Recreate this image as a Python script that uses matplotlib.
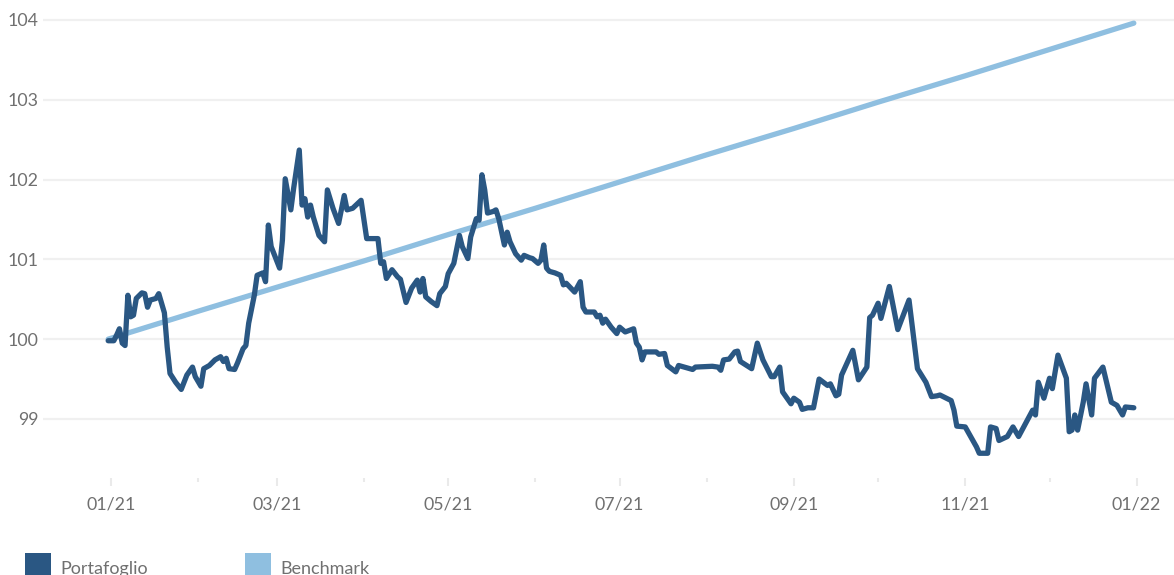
#!/usr/bin/env python3

import pandas as pd
import matplotlib
matplotlib.use('Agg')
import matplotlib.pyplot as plt
import matplotlib.dates as mdates
from matplotlib.patches import Rectangle

# days counted from 2021-01-01
port_day = [-1, 1, 2, 3, 4, 5, 6, 7, 8, 9, 11, 12, 13, 14, 16, 17, 19, 20, 21, 23,
            25, 26, 27, 29, 30, 32, 33, 35, 37, 39, 40, 41, 42, 44, 45, 47, 48, 49, 51, 52,
            54, 55, 56, 57, 60, 61, 62, 64, 65, 67, 68, 69, 70, 71, 72, 74, 76, 77, 79, 81,
            83, 84, 86, 89, 91, 95, 96, 97, 98, 100, 102, 103, 105, 107, 109, 110, 111, 112, 114, 116,
            117, 119, 120, 122, 124, 125, 127, 128, 130, 131, 132, 133, 134, 136, 137, 138, 140, 141, 142, 144,
            146, 147, 149, 150, 152, 153, 154, 155, 156, 158, 160, 161, 162, 165, 167, 168, 169, 172, 173, 174,
            175, 176, 178, 180, 181, 183, 186, 187, 188, 189, 190, 194, 195, 197, 198, 201, 202, 207, 208, 214,
            216, 217, 218, 220, 222, 223, 224, 228, 230, 232, 235, 236, 238, 239, 242, 243, 245, 246, 248, 250,
            252, 255, 256, 258, 259, 260, 264, 266, 269, 270, 271, 273, 274, 277, 280, 284, 287, 290, 292, 294,
            295, 299, 300, 301, 304, 308, 309, 312, 313, 315, 316, 319, 321, 323, 328, 329, 330, 332, 334, 335,
            337, 340, 341, 342, 343, 344, 346, 347, 349, 350, 353, 356, 358, 360, 361, 364]
port_val = [99.98, 99.98, 100.05, 100.13, 99.95, 99.92, 100.55, 100.28, 100.30, 100.51,
            100.58, 100.57, 100.40, 100.49, 100.51, 100.57, 100.33, 99.90, 99.57, 99.46,
            99.37, 99.46, 99.55, 99.65, 99.53, 99.41, 99.63, 99.67, 99.74, 99.78,
            99.72, 99.76, 99.63, 99.62, 99.70, 99.88, 99.92, 100.20, 100.55, 100.80,
            100.83, 100.72, 101.43, 101.16, 100.89, 101.24, 102.01, 101.62, 101.89, 102.37,
            101.68, 101.76, 101.53, 101.68, 101.53, 101.30, 101.22, 101.87, 101.64, 101.45,
            101.80, 101.62, 101.64, 101.74, 101.26, 101.26, 100.95, 100.97, 100.76, 100.87,
            100.78, 100.75, 100.46, 100.64, 100.74, 100.59, 100.76, 100.53, 100.47, 100.42,
            100.57, 100.66, 100.82, 100.95, 101.30, 101.16, 101.01, 101.28, 101.51, 101.49,
            102.06, 101.87, 101.58, 101.60, 101.62, 101.51, 101.18, 101.34, 101.22, 101.07,
            100.99, 101.05, 101.02, 101.01, 100.95, 100.99, 101.18, 100.89, 100.85, 100.83,
            100.80, 100.68, 100.70, 100.59, 100.72, 100.40, 100.34, 100.34, 100.28, 100.30,
            100.20, 100.25, 100.15, 100.07, 100.15, 100.09, 100.13, 99.95, 99.90, 99.74,
            99.84, 99.84, 99.81, 99.82, 99.67, 99.59, 99.67, 99.62, 99.65, 99.66,
            99.65, 99.61, 99.74, 99.75, 99.84, 99.85, 99.72, 99.63, 99.95, 99.74,
            99.53, 99.53, 99.65, 99.34, 99.19, 99.26, 99.21, 99.12, 99.14, 99.14,
            99.50, 99.42, 99.44, 99.29, 99.31, 99.55, 99.86, 99.49, 99.65, 100.27,
            100.30, 100.45, 100.26, 100.66, 100.12, 100.49, 99.63, 99.46, 99.28, 99.29,
            99.30, 99.23, 99.11, 98.91, 98.90, 98.65, 98.57, 98.57, 98.90, 98.88,
            98.73, 98.78, 98.90, 98.78, 99.11, 99.05, 99.46, 99.26, 99.51, 99.38,
            99.80, 99.51, 98.84, 98.86, 99.05, 98.86, 99.21, 99.44, 99.05, 99.51,
            99.65, 99.21, 99.17, 99.05, 99.15, 99.14]

bench_day = [-1, 31, 59, 90, 120, 151, 181, 212, 243, 273, 304, 334, 364]
bench_val = [100.00, 100.35, 100.65, 100.98, 101.31, 101.64, 101.97,
             102.31, 102.64, 102.97, 103.30, 103.63, 103.96]

y_ticks = [99, 100, 101, 102, 103, 104]
series_names = ['Portafoglio', 'Benchmark']
series_colors = ['#2a5783', '#8fbfe0']

origin = pd.Timestamp('2021-01-01')
port_dates = origin + pd.to_timedelta(port_day, unit='D')
bench_dates = origin + pd.to_timedelta(bench_day, unit='D')

plt.rcParams['font.family'] = ['Lato', 'DejaVu Sans']
text_color = '#707070'

fig = plt.figure(figsize=(11.74, 5.75), dpi=100)
ax = fig.add_axes([43 / 1174, (575 - 478) / 575, 1 - 43 / 1174, 478 / 575])

ax.plot(bench_dates, bench_val, color=series_colors[1], linewidth=3.8,
        solid_joinstyle='round', solid_capstyle='round', zorder=2)
ax.plot(port_dates, port_val, color=series_colors[0], linewidth=3.8,
        solid_joinstyle='round', solid_capstyle='round', zorder=3)

ax.set_xlim(origin - pd.Timedelta(days=24.2), origin + pd.Timedelta(days=378.3))
ax.set_ylim(98.26, 104.25)

ax.set_yticks(y_ticks)
ax.set_yticklabels([str(v) for v in y_ticks])
ax.grid(axis='y', color='#f0f0f0', linewidth=1.6, zorder=0)
ax.set_axisbelow(True)

ax.xaxis.set_major_locator(mdates.MonthLocator(bymonth=[1, 3, 5, 7, 9, 11]))
ax.xaxis.set_minor_locator(mdates.MonthLocator())
ax.xaxis.set_major_formatter(mdates.DateFormatter('%m/%y'))

ax.tick_params(axis='y', length=0, pad=3, labelsize=12.8, labelcolor=text_color)
ax.tick_params(axis='x', which='major', length=6, width=1.5, color='#eaeaea',
               pad=7, labelsize=12.8, labelcolor=text_color)
ax.tick_params(axis='x', which='minor', length=3, width=1.5, color='#eaeaea')

for spine in ax.spines.values():
    spine.set_visible(False)

# legend along the bottom edge
legend_x = [25, 245]
for name, color, lx in zip(series_names, series_colors, legend_x):
    fig.patches.append(Rectangle((lx / 1174, 0), 26 / 1174, 22 / 575,
                                 transform=fig.transFigure, facecolor=color,
                                 edgecolor='none'))
    fig.text((lx + 35) / 1174, 1 / 575, name, fontsize=13, color=text_color,
             va='baseline', ha='left')

fig.savefig('out.png', dpi=100)
